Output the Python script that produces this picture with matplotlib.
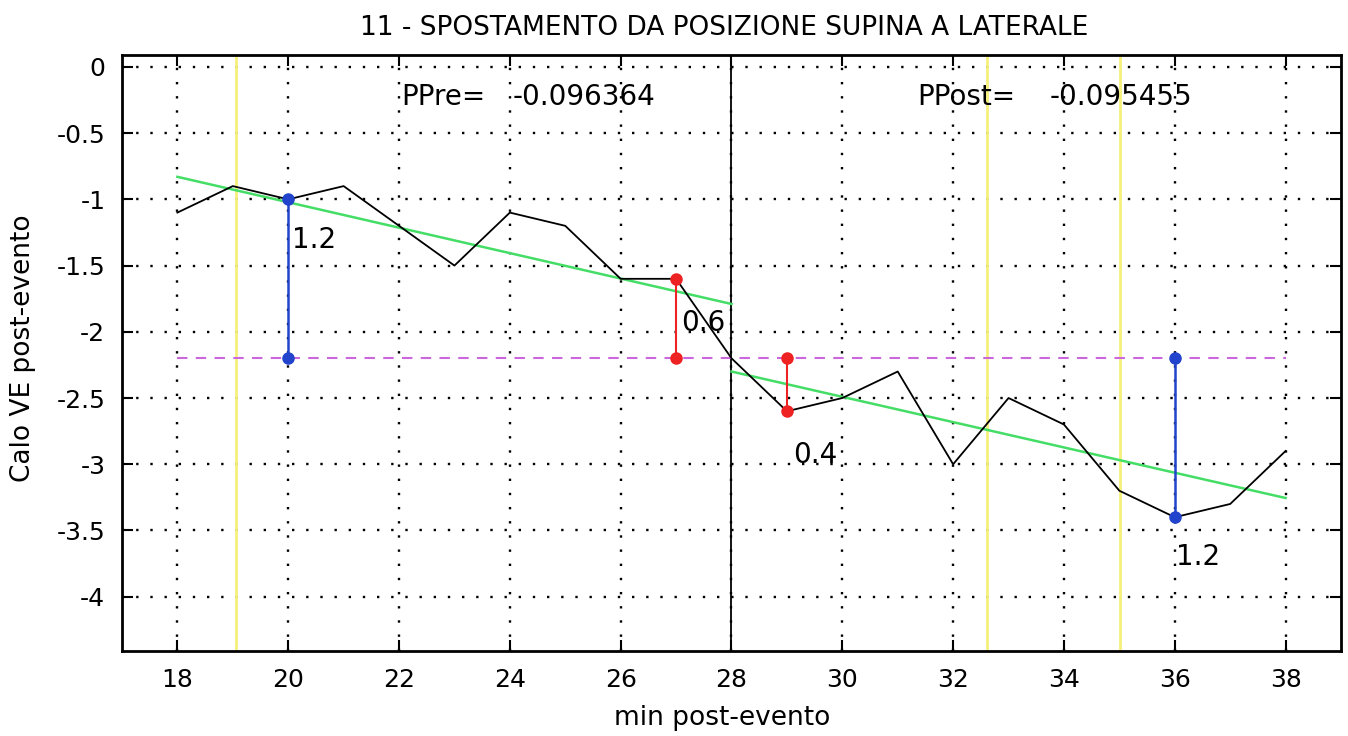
import matplotlib
matplotlib.use('agg')
import matplotlib.pyplot as plt
import numpy as np

# dati
minuti = [18, 19, 20, 21, 22, 23, 24, 25, 26, 27, 28, 29, 30, 31, 32, 33, 34, 35, 36, 37, 38]
calo_ve = [-1.1, -0.9, -1.0, -0.9, -1.2, -1.5, -1.1, -1.2, -1.6, -1.6, -2.2,
           -2.6, -2.5, -2.3, -3.0, -2.5, -2.7, -3.2, -3.4, -3.3, -2.9]

fit_pre_x = [18, 28]
fit_pre_y = [-0.83, -1.79]
fit_post_x = [28, 38]
fit_post_y = [-2.30, -3.255]

soglia = -2.2
linee_gialle = [19.05, 32.62, 35.01]
evento = 28

stem_blu_x = [20, 36]
stem_blu_y = [-1.0, -3.4]
stem_blu_lab = ['1.2', '1.2']
stem_rossi_x = [27, 29]
stem_rossi_y = [-1.6, -2.6]
stem_rossi_lab = ['0.6', '0.4']

ppre = '-0.096364'
ppost = '-0.095455'

plt.rcParams['font.family'] = ['DejaVu Sans']
fs = 18   # tick
fs_txt = 20  # testi nel grafico

fig = plt.figure(figsize=(13.48, 7.36), dpi=100)
ax = fig.add_axes([0.0905, 0.1155, 0.9043, 0.8098])

ax.grid(True, color='black', linestyle=(0, (1, 5)), linewidth=1.7)
ax.set_axisbelow(True)

for xv in linee_gialle:
    ax.axvline(xv, color='#f5f07a', linewidth=2, zorder=1)
ax.axvline(evento, color='black', linewidth=1.3, zorder=2)

ax.plot([minuti[0], minuti[-1]], [soglia, soglia], color='#cc66dd', linestyle=(0, (5, 4)), linewidth=1.5, zorder=2)

ax.plot(fit_pre_x, fit_pre_y, color='#44dd66', linewidth=1.8, zorder=3)
ax.plot(fit_post_x, fit_post_y, color='#44dd66', linewidth=1.8, zorder=3)
ax.plot(minuti, calo_ve, color='black', linewidth=1.3, zorder=4)

# segmenti blu
ax.plot([stem_blu_x[0]] * 2, [stem_blu_y[0], soglia], color='#2244cc', linewidth=1.8, marker='o', markersize=8, zorder=5)
ax.text(stem_blu_x[0] + 0.07, -1.31, stem_blu_lab[0], fontsize=fs_txt, va='center', ha='left')
ax.plot([stem_blu_x[1]] * 2, [soglia, stem_blu_y[1]], color='#2244cc', linewidth=1.8, marker='o', markersize=8, zorder=5)
ax.text(stem_blu_x[1] + 0.02, -3.70, stem_blu_lab[1], fontsize=fs_txt, va='center', ha='left')

# segmenti rossi
ax.plot([stem_rossi_x[0]] * 2, [stem_rossi_y[0], soglia], color='#ee2222', linewidth=1.5, marker='o', markersize=8, zorder=5)
ax.text(stem_rossi_x[0] + 0.1, -1.93, stem_rossi_lab[0], fontsize=fs_txt, va='center', ha='left')
ax.plot([stem_rossi_x[1]] * 2, [soglia, stem_rossi_y[1]], color='#ee2222', linewidth=1.5, marker='o', markersize=8, zorder=5)
ax.text(stem_rossi_x[1] + 0.12, -2.93, stem_rossi_lab[1], fontsize=fs_txt, va='center', ha='left')

ax.text(22.04, -0.227, 'PPre=', fontsize=fs_txt, va='center', ha='left')
ax.text(24.05, -0.227, ppre, fontsize=fs_txt, va='center', ha='left')
ax.text(31.35, -0.227, 'PPost=', fontsize=fs_txt, va='center', ha='left')
ax.text(33.75, -0.227, ppost, fontsize=fs_txt, va='center', ha='left')

ax.set_xlim(17, 39)
ax.set_ylim(-4.41, 0.09)
ax.set_xticks(np.arange(18, 39, 2))
ax.set_yticks(np.arange(-4, 0.01, 0.5))
ax.set_yticklabels(['-4', '-3.5', '-3', '-2.5', '-2', '-1.5', '-1', '-0.5', '0'])
ax.tick_params(axis='both', direction='in', length=8, width=1.5, labelsize=fs,
               top=True, right=True, pad=12)
for sp in ax.spines.values():
    sp.set_linewidth(2)

fig.text(0.537, 0.962, '11 - SPOSTAMENTO DA POSIZIONE SUPINA A LATERALE', fontsize=19, ha='center', va='center')
fig.text(0.5356, 0.025, 'min post-evento', fontsize=19, ha='center', va='center')
fig.text(0.017, 0.527, 'Calo VE post-evento', fontsize=19, ha='center', va='center', rotation=90)

plt.savefig('out.png', dpi=100)
plt.close()
